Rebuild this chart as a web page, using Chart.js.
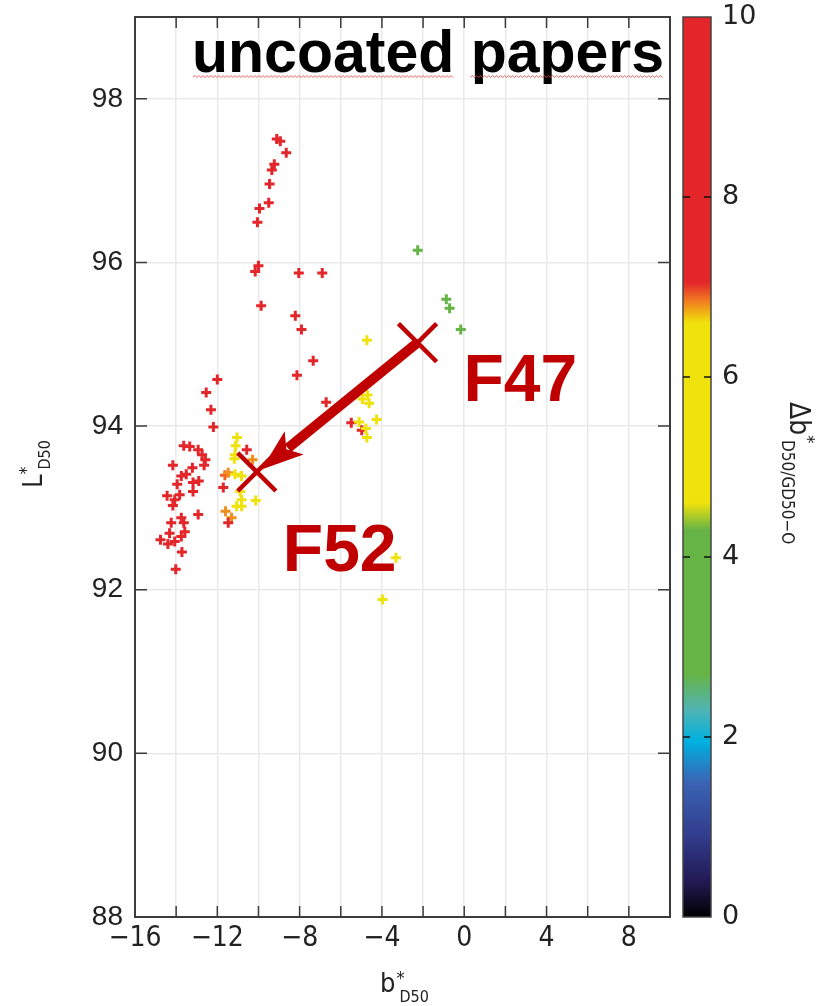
<!DOCTYPE html>
<html>
<head>
<meta charset="utf-8">
<script src="https://cdn.jsdelivr.net/npm/chart.js@4.4.0/dist/chart.umd.min.js"></script>
<style>
  html, body { margin: 0; padding: 0; background: #fff; }
  canvas { display: block; }
</style>
</head>
<body>
<canvas id="myChart" width="821" height="1006"></canvas>
<script>
// values: b* (x), L* (y), delta b* (colour)
var bStar = [
  -9.11, -8.94, -8.65, -9.23, -9.35, -9.46, -9.50, -9.95, -10.05, -10.00,
  -10.16, -8.04, -6.90, -9.87, -8.21, -7.91, -7.34, -8.13, -6.71,
  -12.00, -12.54, -12.31, -12.19, -13.63, -13.34, -12.93, -12.74, -12.58, -12.64, -14.16,
  -13.21, -13.51, -13.75, -12.90, -13.18, -13.95, -13.18, -13.83, -14.44, -14.07,
  -14.16, -12.93, -13.75, -13.63, -14.24, -13.58, -14.32, -13.75, -14.76, -14.07,
  -14.40, -13.72, -14.02,
  -11.04, -11.11, -10.57, -11.14, -11.17, -10.29, -11.63, -11.47, -11.14, -10.82,
  -11.71, -10.89, -10.82, -10.13, -11.06, -10.82, -11.60, -11.31, -11.47,
  -2.26, -0.87, -0.71, -0.17, -4.73, -4.70, -4.95, -4.62, -5.49, -5.11,
  -4.26, -4.98, -4.78, -4.73, -3.32, -3.97
];
var lStar = [
  97.51, 97.48, 97.34, 97.20, 97.13, 96.96, 96.73, 96.66, 96.49, 95.96,
  95.89, 95.87, 95.87, 95.47, 95.35, 95.18, 94.80, 94.62, 94.29,
  94.57, 94.41, 94.20, 93.99, 93.76, 93.75, 93.71, 93.65, 93.59, 93.52, 93.52,
  93.49, 93.41, 93.39, 93.33, 93.31, 93.29, 93.20, 93.16, 93.15, 93.10,
  93.03, 92.92, 92.88, 92.82, 92.82, 92.71, 92.69, 92.65, 92.61, 92.59,
  92.56, 92.46, 92.25,
  93.86, 93.76, 93.71, 93.65, 93.60, 93.59, 93.40, 93.43, 93.41, 93.39,
  93.25, 93.20, 93.10, 93.09, 93.02, 93.02, 92.96, 92.88, 92.82,
  96.15, 95.55, 95.44, 95.18, 95.05, 94.38, 94.33, 94.28, 94.04, 94.05,
  94.08, 93.95, 93.97, 93.86, 92.39, 91.88
];
var deltaB = [
  9, 9, 9, 9, 9, 9, 9, 9, 9, 9,
  9, 9, 9, 9, 9, 9, 9, 9, 9,
  9, 9, 9, 9, 9, 9, 9, 9, 9, 9, 9,
  9, 9, 9, 9, 9, 9, 9, 9, 9, 9,
  9, 9, 9, 9, 9, 9, 9, 9, 9, 9,
  9, 9, 9,
  5.8, 6.5, 7.3, 5.5, 5.5, 6.8, 6.9, 6.8, 5.5, 5.8,
  7.1, 5.5, 6.6, 5.5, 5.7, 5.5, 6.8, 6.8, 7.2,
  3.8, 3.8, 3.6, 3.8, 5.5, 5.5, 5.5, 5.5, 9, 6.5,
  5.5, 8, 5.5, 5.5, 5.5, 5.5
];

// the two marked papers and where the arrow ends
var markNames = ["F47", "F52"];
var markB = [-2.27, -10.08];
var markL = [95.02, 93.44];
var arrowEnd = [-9.85, 93.47];

// tick labels
var xTickLabels = [-16, -12, -8, -4, 0, 4, 8];
var yTickLabels = [88, 90, 92, 94, 96, 98];
var cbarTicks = [0, 2, 4, 6, 8, 10];

// colour map of the colour bar
var cmap = [
  [0, "#000000"], [0.4, "#231a55"], [0.9, "#323c8c"], [1.5, "#3a64b4"],
  [1.95, "#00b0e0"], [2.3, "#50b4b4"], [2.7, "#66b446"], [4.3, "#66b446"],
  [4.6, "#f0e20c"], [6.6, "#f0e20c"], [6.85, "#f07a20"], [7.05, "#e3262a"],
  [10, "#e3262a"]
];

var NARROW = "'Liberation Sans Narrow', 'Arial Narrow', 'DejaVu Sans Condensed', 'Liberation Sans', sans-serif";
var SANS = "'Liberation Sans', Arial, sans-serif";

function hexRgb(h) {
  return [parseInt(h.substr(1, 2), 16), parseInt(h.substr(3, 2), 16), parseInt(h.substr(5, 2), 16)];
}
function colorFor(v) {
  for (var i = 1; i < cmap.length; i++) {
    if (v <= cmap[i][0]) {
      var a = cmap[i - 1], b = cmap[i];
      var t = (v - a[0]) / (b[0] - a[0]);
      var ca = hexRgb(a[1]), cb = hexRgb(b[1]);
      return "rgb(" + Math.round(ca[0] + (cb[0] - ca[0]) * t) + "," +
        Math.round(ca[1] + (cb[1] - ca[1]) * t) + "," +
        Math.round(ca[2] + (cb[2] - ca[2]) * t) + ")";
    }
  }
  return cmap[cmap.length - 1][1];
}
function minus(v) { return v < 0 ? "\u2212" + (-v) : String(v); }

function squiggle(ctx, x0, x1, y) {
  ctx.beginPath();
  var up = true;
  ctx.moveTo(x0, y);
  for (var x = x0 + 2; x <= x1; x += 2) {
    ctx.lineTo(x, up ? y - 1.5 : y + 0.5);
    up = !up;
  }
  ctx.stroke();
}

// vertical axes should not push the plot area down
function noPad(s) { s.paddingTop = 0; s.paddingBottom = 0; }

var pts = bStar.map(function (b, i) { return { x: b, y: lStar[i] }; });
var marks = markB.map(function (b, i) { return { x: b, y: markL[i] }; });

var decor = {
  id: "decor",
  beforeDatasetsDraw: function (chart) {
    var ctx = chart.ctx, a = chart.chartArea;
    ctx.save();
    ctx.font = "bold 59px " + SANS;
    ctx.fillStyle = "#000";
    ctx.textBaseline = "alphabetic";
    var tx = a.left + 57, ty = a.top + 55;
    ctx.fillText("uncoated papers", tx, ty);
    var w1 = ctx.measureText("uncoated").width;
    var w0 = ctx.measureText("uncoated ").width;
    var w2 = ctx.measureText("uncoated papers").width;
    ctx.strokeStyle = "rgba(230,70,70,0.85)";
    ctx.lineWidth = 1;
    squiggle(ctx, tx + 1, tx + w1, ty + 5);
    squiggle(ctx, tx + w0, tx + w2, ty + 5);
    ctx.restore();
  },
  afterDatasetsDraw: function (chart) {
    var ctx = chart.ctx, a = chart.chartArea;
    var xs = chart.scales.x, ys = chart.scales.y, cs = chart.scales.c;
    ctx.save();

    // arrow F47 -> F52
    var sx = xs.getPixelForValue(markB[0]), sy = ys.getPixelForValue(markL[0]);
    var ex = xs.getPixelForValue(arrowEnd[0]), ey = ys.getPixelForValue(arrowEnd[1]);
    var dx = ex - sx, dy = ey - sy, len = Math.sqrt(dx * dx + dy * dy);
    var ux = dx / len, uy = dy / len, px = -uy, py = ux;
    var hl = 38, hw = 15;
    var bx = ex - ux * hl, by = ey - uy * hl;
    ctx.strokeStyle = "#c00000";
    ctx.fillStyle = "#c00000";
    ctx.lineWidth = 10;
    ctx.beginPath();
    ctx.moveTo(sx, sy);
    ctx.lineTo(bx + ux * 4, by + uy * 4);
    ctx.stroke();
    ctx.beginPath();
    ctx.moveTo(ex, ey);
    ctx.lineTo(bx + px * hw - ux * 4, by + py * hw - uy * 4);
    ctx.lineTo(bx + ux * 6, by + uy * 6);
    ctx.lineTo(bx - px * hw - ux * 4, by - py * hw - uy * 4);
    ctx.closePath();
    ctx.fill();

    // paper names
    ctx.font = "bold 66px " + SANS;
    ctx.textBaseline = "alphabetic";
    ctx.fillText(markNames[0], xs.getPixelForValue(markB[0]) + 46, ys.getPixelForValue(markL[0]) + 58);
    ctx.fillText(markNames[1], xs.getPixelForValue(markB[1]) + 26, ys.getPixelForValue(markL[1]) + 99);

    // frame and inward ticks
    ctx.strokeStyle = "#3c3c3c";
    ctx.lineWidth = 2;
    ctx.strokeRect(a.left, a.top, a.right - a.left, a.bottom - a.top);
    ctx.lineWidth = 1.5;
    ctx.beginPath();
    xs.ticks.forEach(function (t) {
      var p = xs.getPixelForValue(t.value);
      if (p <= a.left + 1 || p >= a.right - 1) return;
      ctx.moveTo(p, a.bottom); ctx.lineTo(p, a.bottom - 11);
      ctx.moveTo(p, a.top); ctx.lineTo(p, a.top + 11);
    });
    ys.ticks.forEach(function (t) {
      var p = ys.getPixelForValue(t.value);
      if (p >= a.bottom - 1) return;
      ctx.moveTo(a.left, p); ctx.lineTo(a.left + 12, p);
      ctx.moveTo(a.right, p); ctx.lineTo(a.right - 12, p);
    });
    ctx.stroke();

    // colour bar
    var cx = cs.left + 13, cw = 28;
    var ct = cs.getPixelForValue(10), cb = cs.getPixelForValue(0);
    var g = ctx.createLinearGradient(0, cb, 0, ct);
    cmap.forEach(function (s) { g.addColorStop(s[0] / 10, s[1]); });
    ctx.fillStyle = g;
    ctx.fillRect(cx, ct, cw, cb - ct);
    ctx.strokeStyle = "#444";
    ctx.lineWidth = 1.5;
    ctx.strokeRect(cx, ct, cw, cb - ct);
    ctx.strokeStyle = "#111";
    ctx.beginPath();
    cbarTicks.forEach(function (v) {
      if (v === 0 || v === 10) return;
      var p = cs.getPixelForValue(v);
      ctx.moveTo(cx, p); ctx.lineTo(cx + 7, p);
      ctx.moveTo(cx + cw - 7, p); ctx.lineTo(cx + cw, p);
    });
    ctx.stroke();

    // axis titles
    ctx.fillStyle = "#222";
    ctx.textBaseline = "alphabetic";
    // b*D50
    ctx.font = "27px " + NARROW;
    var bx0 = 380, by0 = 992;
    ctx.fillText("b", bx0, by0);
    var wb = ctx.measureText("b").width;
    ctx.font = "18px " + NARROW;
    ctx.fillText("*", bx0 + wb + 1, by0 - 8);
    ctx.font = "16px " + NARROW;
    ctx.fillText("D50", bx0 + wb + 4, by0 + 10);

    // L*D50
    ctx.save();
    ctx.translate(42, 488);
    ctx.rotate(-Math.PI / 2);
    ctx.font = "27px " + NARROW;
    ctx.fillText("L", 0, 0);
    var wl = ctx.measureText("L").width;
    ctx.font = "18px " + NARROW;
    ctx.fillText("*", wl, -10);
    ctx.font = "16px " + NARROW;
    ctx.fillText("D50", wl + 5, 8);
    ctx.restore();

    // colour bar title
    ctx.save();
    ctx.translate(790, 402);
    ctx.rotate(Math.PI / 2);
    ctx.font = "28px " + NARROW;
    ctx.fillText("\u0394b", 0, 0);
    var wd = ctx.measureText("\u0394b").width;
    ctx.font = "18px " + NARROW;
    ctx.fillText("*", wd, -12);
    ctx.font = "17px " + NARROW;
    ctx.fillText("D50/GD50\u2212O", 38, 8);
    ctx.restore();

    ctx.restore();
  }
};

var ctx = document.getElementById("myChart").getContext("2d");
var chart = new Chart(ctx, {
  type: "scatter",
  data: {
    datasets: [
      {
        label: "marked",
        data: marks,
        pointStyle: "crossRot",
        pointRadius: 27,
        pointBorderWidth: 4.5,
        pointBorderColor: "#c00000",
        pointBackgroundColor: "#c00000"
      },
      {
        label: "uncoated papers",
        data: pts,
        pointStyle: "cross",
        pointRadius: 5,
        pointBorderWidth: 3,
        pointBorderColor: deltaB.map(colorFor),
        pointBackgroundColor: deltaB.map(colorFor)
      }
    ]
  },
  options: {
    responsive: false,
    devicePixelRatio: 1,
    animation: false,
    events: [],
    layout: { autoPadding: false, padding: { top: 17, left: 0, right: 0, bottom: 0 } },
    plugins: { legend: { display: false }, tooltip: { enabled: false } },
    scales: {
      x: {
        type: "linear",
        min: -16, max: 10,
        border: { display: false },
        grid: { color: "#e9e9e9", lineWidth: 1.5, drawTicks: false },
        ticks: {
          stepSize: 2, autoSkip: false, maxRotation: 0, padding: 5,
          color: "#222",
          font: { size: 28, family: NARROW },
          callback: function (v) { return xTickLabels.indexOf(v) >= 0 ? minus(v) : ""; }
        },
        afterFit: function (s) { s.height = 89; }
      },
      y: {
        type: "linear",
        min: 88, max: 99,
        border: { display: false },
        grid: { color: "#e9e9e9", lineWidth: 1.5, drawTicks: false },
        ticks: {
          stepSize: 2, padding: 12, color: "#222",
          font: { size: 28, family: SANS },
          callback: function (v) { return yTickLabels.indexOf(v) >= 0 ? String(v) : ""; }
        },
        afterBuildTicks: function (s) {
          s.ticks = s.ticks.filter(function (t) { return yTickLabels.indexOf(t.value) >= 0; });
        },
        afterFit: function (s) { s.width = 135; noPad(s); }
      },
      c: {
        type: "linear",
        position: "right",
        min: 0, max: 10,
        border: { display: false },
        grid: { display: false, drawTicks: false },
        ticks: {
          stepSize: 2, padding: 52, color: "#222",
          font: { size: 27, family: "'DejaVu Sans', sans-serif" },
          callback: function (v) { return cbarTicks.indexOf(v) >= 0 ? String(v) : ""; }
        },
        afterFit: function (s) { s.width = 151; noPad(s); }
      }
    }
  },
  plugins: [decor]
});
</script>
</body>
</html>
